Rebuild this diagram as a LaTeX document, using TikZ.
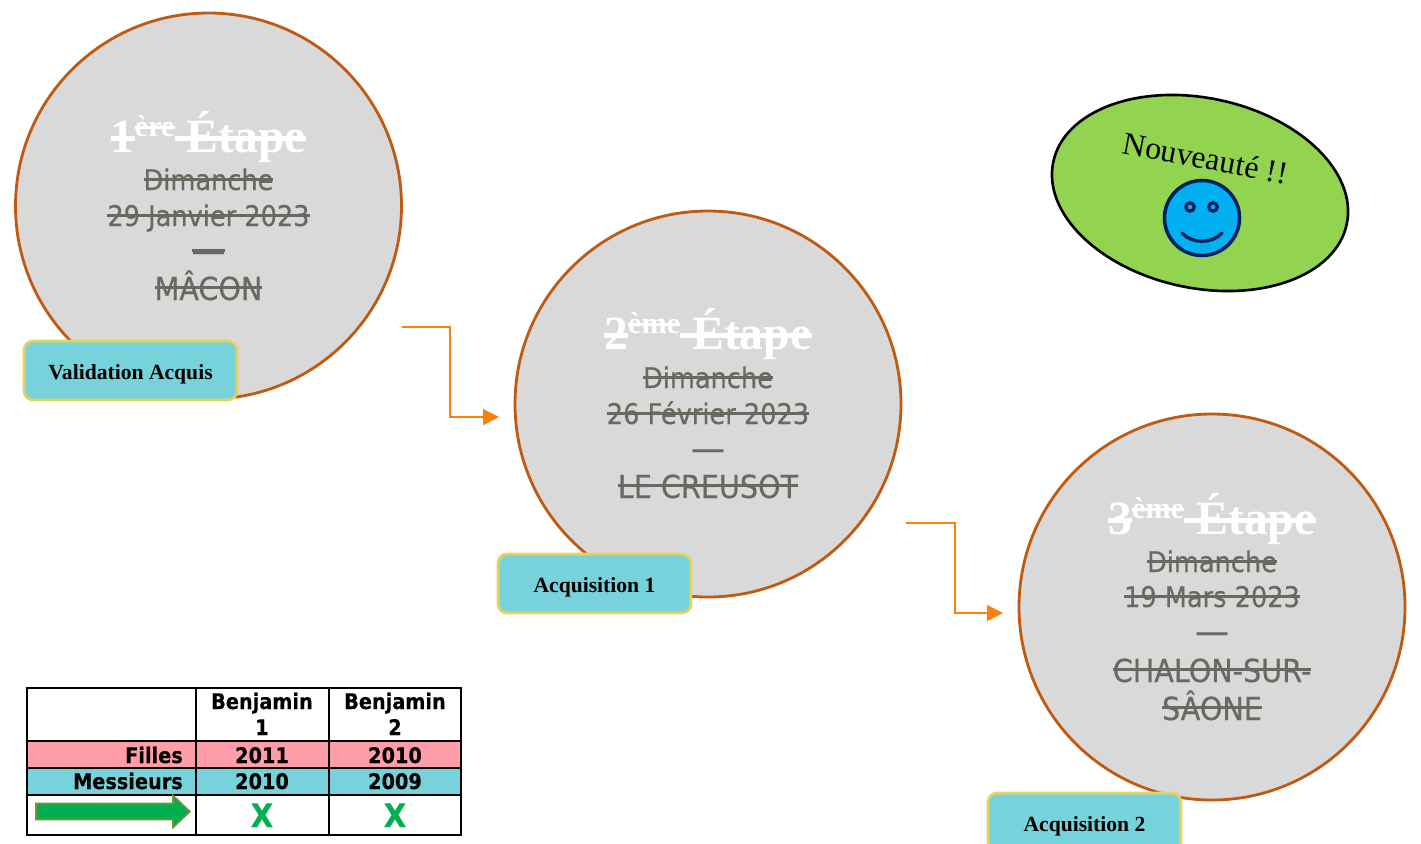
\documentclass[tikz,border=0pt]{standalone}
\usepackage{fontspec}
\setmainfont{Liberation Serif}
\newfontfamily\tahoma[FakeStretch=0.9,FakeBold=0.3]{DejaVu Sans}
\usetikzlibrary{arrows.meta,shapes.geometric}
\definecolor{circleline}{HTML}{C05A10}
\definecolor{circlefill}{HTML}{D9D9D9}
\definecolor{stagegray}{HTML}{676A60}
\definecolor{tagfill}{HTML}{78D2DB}
\definecolor{tagline}{HTML}{E8D25F}
\definecolor{flowline}{HTML}{FF7F0E}
\definecolor{rowred}{HTML}{FF9DA8}
\definecolor{newgreen}{HTML}{92D350}
\definecolor{smileblue}{HTML}{00B0F0}
\definecolor{smileline}{HTML}{002060}
\definecolor{xgreen}{HTML}{00B050}
\definecolor{arrowline}{HTML}{7F8F35}
\newsavebox{\strkbox}
% text with its own line through it
\newcommand{\strk}[2][0.33em]{\sbox{\strkbox}{#2}\rlap{\usebox{\strkbox}}\raisebox{#1}{\rule{\wd\strkbox}{0.085em}}}
\newcommand{\titlestrk}[2]{\strk[0.24em]{#1}\raisebox{0.33em}{\fontsize{8.6pt}{8.6pt}\selectfont\strk[0.24em]{#2}}\strk[0.24em]{ Étape}}
\tikzset{
  stagecircle/.style={circle,draw=circleline,fill=circlefill,line width=0.8pt,minimum size=3.86cm,inner sep=0pt},
  stagetitle/.style={anchor=base,inner sep=0pt,text=white,font=\bfseries\fontsize{13.6pt}{13.6pt}\selectfont},
  stagetext/.style={anchor=base,inner sep=0pt,text=stagegray,font=\tahoma\fontsize{8.1pt}{10.4pt}\selectfont},
  stagetown/.style={stagetext,font=\tahoma\fontsize{9.05pt}{10.4pt}\selectfont},
  stagedash/.style={stagetext,font=\tahoma\fontsize{10.7pt}{10.4pt}\selectfont},
  tagbox/.style={draw=tagline,fill=tagfill,line width=0.75pt,rounded corners=0.09cm,inner sep=0pt,minimum height=0.59cm,text height=5.2pt,text depth=0pt,font=\bfseries\fontsize{6.15pt}{7pt}\selectfont},
  flow/.style={draw=flowline,line width=0.32pt,-{Triangle[length=0.16cm,width=0.16cm]}},
  cell/.style={anchor=base,inner sep=0pt,font=\tahoma\bfseries\fontsize{6.1pt}{7pt}\selectfont},
  tablerule/.style={line width=0.55pt},
  eye/.style={circle,draw=smileline,fill=smileblue,line width=0.9pt,minimum size=0.085cm,inner sep=0pt}
}
\begin{document}
\begin{tikzpicture}
  \useasboundingbox (0,0) rectangle (14.21,-8.43);
  \clip (0,0) rectangle (14.21,-8.43);

  % first stage
  \node[stagecircle] (circle1) at (2.085,-2.06) {};
  \node[stagetitle] (title1) at (2.085,-1.52) {\titlestrk{1}{ère}};
  \node[stagetext] (day1) at (2.085,-1.90) {\strk{Dimanche}};
  \node[stagetext] (date1) at (2.085,-2.26) {\strk{29 Janvier 2023}};
  \node[stagedash] (dash1) at (2.085,-2.63) {\strk[0.30em]{—}};
  \node[stagetown] (town1) at (2.085,-3.00) {\strk[0.34em]{MÂCON}};
  \node[tagbox,minimum width=2.13cm] (tag1) at (1.305,-3.705) {Validation Acquis};

  % second stage
  \node[stagecircle] (circle2) at (7.08,-4.04) {};
  \node[stagetitle] (title2) at (7.08,-3.49) {\titlestrk{2}{ème}};
  \node[stagetext] (day2) at (7.08,-3.88) {\strk{Dimanche}};
  \node[stagetext] (date2) at (7.08,-4.24) {\strk{26 Février 2023}};
  \node[stagedash] (dash2) at (7.08,-4.61) {—};
  \node[stagetown] (town2) at (7.08,-4.98) {\strk[0.34em]{LE CREUSOT}};
  \node[tagbox,minimum width=1.93cm] (tag2) at (5.945,-5.835) {Acquisition 1};

  % third stage
  \node[stagecircle] (circle3) at (12.12,-6.07) {};
  \node[stagetitle] (title3) at (12.12,-5.34) {\titlestrk{3}{ème}};
  \node[stagetext] (day3) at (12.12,-5.72) {\strk{Dimanche}};
  \node[stagetext] (date3) at (12.12,-6.07) {\strk{19 Mars 2023}};
  \node[stagedash] (dash3) at (12.12,-6.44) {—};
  \node[stagetown] (town3) at (12.12,-6.82) {\strk[0.34em]{CHALON-SUR-}};
  \node[stagetown] (townb3) at (12.12,-7.20) {\strk[0.34em]{SÂONE}};
  \node[tagbox,minimum width=1.93cm] (tag3) at (10.845,-8.225) {Acquisition 2};

  % links
  \coordinate (from1) at (4.02,-3.27);
  \coordinate (to1) at (4.99,-4.17);
  \coordinate (from2) at (9.06,-5.23);
  \coordinate (to2) at (10.03,-6.13);
  \draw[flow] (from1) -- ++(0.48,0) |- (to1);
  \draw[flow] (from2) -- ++(0.49,0) |- (to2);

  % new
  \node[ellipse,draw=black,fill=newgreen,line width=0.75pt,minimum width=3.0cm,minimum height=1.9cm,inner sep=0pt,rotate=-12] (newblob) at (12.0,-1.93) {};
  \node[inner sep=0pt,rotate=-10.6,font=\fontsize{9.05pt}{10pt}\selectfont] (newtext) at (12.055,-1.58) {Nouveauté !!};
  \node[circle,draw=smileline,fill=smileblue,line width=1pt,minimum size=0.75cm,inner sep=0pt] (smile) at (12.02,-2.18) {};
  \node[eye] (eyeleft) at (11.90,-2.07) {};
  \node[eye] (eyeright) at (12.13,-2.07) {};
  \draw[smileline,line width=0.95pt,line cap=round] (11.82,-2.33) .. controls (11.92,-2.44) and (12.12,-2.44) .. (12.22,-2.33);

  % table
  \fill[rowred] (0.27,-7.41) rectangle (4.61,-7.68);
  \fill[tagfill] (0.27,-7.68) rectangle (4.61,-7.95);
  \draw[tablerule] (0.27,-6.88) rectangle (4.61,-8.35);
  \draw[tablerule] (1.96,-6.88) -- (1.96,-8.35);
  \draw[tablerule] (3.29,-6.88) -- (3.29,-8.35);
  \draw[tablerule] (0.27,-7.41) -- (4.61,-7.41);
  \draw[tablerule] (0.27,-7.68) -- (4.61,-7.68);
  \draw[tablerule] (0.27,-7.95) -- (4.61,-7.95);
  \node[cell] (bena) at (2.62,-7.09) {Benjamin};
  \node[cell] (benaa) at (2.62,-7.35) {1};
  \node[cell] (benb) at (3.95,-7.09) {Benjamin};
  \node[cell] (benbb) at (3.95,-7.35) {2};
  \node[cell,anchor=base east] (girls) at (1.835,-7.63) {Filles};
  \node[cell] (girlsa) at (2.62,-7.63) {2011};
  \node[cell] (girlsb) at (3.95,-7.63) {2010};
  \node[cell,anchor=base east] (boys) at (1.835,-7.89) {Messieurs};
  \node[cell] (boysa) at (2.62,-7.89) {2010};
  \node[cell] (boysb) at (3.95,-7.89) {2009};
  \draw[draw=arrowline,fill=xgreen,line width=0.45pt] (0.36,-8.035) -- (1.73,-8.035) -- (1.73,-7.955) -- (1.90,-8.115) -- (1.73,-8.275) -- (1.73,-8.195) -- (0.36,-8.195) -- cycle;
  \node[cell,text=xgreen,font=\tahoma\bfseries\fontsize{9.2pt}{10pt}\selectfont] (xa) at (2.62,-8.27) {X};
  \node[cell,text=xgreen,font=\tahoma\bfseries\fontsize{9.2pt}{10pt}\selectfont] (xb) at (3.95,-8.27) {X};
\end{tikzpicture}
\end{document}
